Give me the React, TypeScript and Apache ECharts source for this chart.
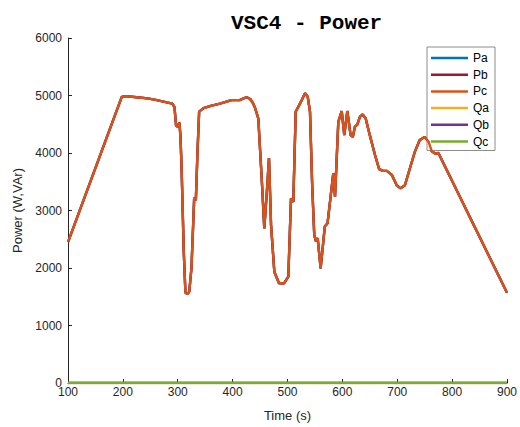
import React, { useEffect, useRef } from "react";
import * as echarts from "echarts";

const seriesNames = ["Pa", "Pb", "Pc", "Qa", "Qb", "Qc"];
const seriesColors = ["#0072BD", "#A2142F", "#D95319", "#EDB120", "#7E2F8E", "#77AC30"];

const pTime = [
  100, 198, 205, 225, 245, 262, 280, 290, 294, 297, 300, 303, 305, 307, 311, 314, 318, 321, 325, 330,
  333, 336, 339, 347, 360, 377, 398, 413, 420, 426, 432, 437, 441, 446.8, 453, 457.7, 462, 466.3, 470, 476,
  484.5, 494, 501.5, 506.4, 510.6, 515, 519.7, 526, 532, 536.8, 541, 545, 548.8, 552, 555, 560.4, 568, 573, 583.5, 586.6,
  592.6, 598.8, 603.5, 609, 615, 619, 623, 627, 632, 637, 642.5, 650, 659.5, 667, 674, 681, 690, 699, 706, 714,
  723, 732, 741, 750, 757, 763, 769, 775, 900,
];
const paValues = [
  2450, 4975, 4990, 4970, 4950, 4920, 4880, 4860, 4800, 4470, 4460, 4530, 4280, 3740, 2280, 1570, 1550, 1590, 2000, 3220,
  3180, 4020, 4720, 4780, 4820, 4860, 4920, 4920, 4950, 4970, 4940, 4870, 4780, 4600, 3560, 2690, 3270, 3910, 2750, 1935,
  1735, 1735, 1850, 3210, 3150, 4720, 4805, 4920, 5040, 4980, 4720, 3440, 2570, 2460, 2520, 1995, 2720, 2780, 3650, 3240,
  4540, 4730, 4310, 4730, 4310, 4280, 4460, 4490, 4630, 4670, 4600, 4310, 3965, 3720, 3690, 3690, 3620, 3440, 3385, 3440,
  3730, 4020, 4225, 4280, 4200, 4030, 3990, 4000, 1570,
];
const pbValues = paValues;
const pcValues = paValues;

const qTime = [100, 900];
const qaValues = [0, 0];
const qbValues = [0, 0];
const qcValues = [0, 0];

const xTicks = [100, 200, 300, 400, 500, 600, 700, 800, 900];
const yTicks = [0, 1000, 2000, 3000, 4000, 5000, 6000];

function zip(t: number[], v: number[]) {
  return t.map((x, i) => [x, v[i]]);
}

export default function App() {
  const ref = useRef<HTMLDivElement>(null);
  useEffect(() => {
    if (!ref.current) return;
    const chart = echarts.init(ref.current, null, { renderer: "svg" });
    const axisColor = "#262626";
    const data = [
      zip(pTime, paValues),
      zip(pTime, pbValues),
      zip(pTime, pcValues),
      zip(qTime, qaValues),
      zip(qTime, qbValues),
      zip(qTime, qcValues),
    ];
    chart.setOption({
      animation: false,
      backgroundColor: "#ffffff",
      title: {
        text: "VSC4 - Power",
        left: 226,
        top: 8,
        textStyle: {
          fontFamily: "Liberation Mono",
          fontWeight: "bold",
          fontSize: 21,
          color: "#000000",
        },
      },
      grid: { left: 68, right: 13, top: 38, bottom: 44, containLabel: false },
      legend: {
        orient: "vertical",
        left: 427,
        top: 47,
        data: seriesNames,
        icon: "rect",
        itemWidth: 37,
        itemHeight: 2.5,
        itemGap: 4.7,
        padding: [5, 6, 3, 4],
        backgroundColor: "#ffffff",
        borderColor: "#8c8c8c",
        borderWidth: 1,
        borderRadius: 0,
        textStyle: { fontFamily: "Liberation Sans", fontSize: 12, color: "#000000", lineHeight: 12 },
      },
      xAxis: {
        type: "value",
        min: xTicks[0],
        max: xTicks[xTicks.length - 1],
        interval: 100,
        name: "Time (s)",
        nameLocation: "middle",
        nameGap: 26,
        nameTextStyle: { fontFamily: "Liberation Sans", fontSize: 13, color: axisColor },
        axisLine: { show: true, lineStyle: { color: axisColor, width: 1 } },
        axisTick: { show: true, inside: true, length: 4, lineStyle: { color: axisColor } },
        axisLabel: { fontFamily: "Liberation Sans", fontSize: 12, color: axisColor, margin: 3 },
        splitLine: { show: false },
      },
      yAxis: {
        type: "value",
        min: yTicks[0],
        max: yTicks[yTicks.length - 1],
        interval: 1000,
        name: "Power (W,VAr)",
        nameLocation: "middle",
        nameGap: 35,
        nameTextStyle: { fontFamily: "Liberation Sans", fontSize: 13, color: axisColor },
        axisLine: { show: true, lineStyle: { color: axisColor, width: 1 } },
        axisTick: { show: true, inside: true, length: 4, lineStyle: { color: axisColor } },
        axisLabel: {
          fontFamily: "Liberation Sans",
          fontSize: 12,
          color: axisColor,
          margin: 6,
          formatter: (v: number) => String(v),
        },
        splitLine: { show: false },
      },
      series: seriesNames.map((name, i) => ({
        name,
        type: "line",
        data: data[i],
        showSymbol: false,
        symbol: "none",
        smooth: false,
        lineStyle: { color: seriesColors[i], width: 2.4 },
        itemStyle: { color: seriesColors[i] },
        z: 2 + i,
      })),
    });
    return () => chart.dispose();
  }, []);
  return <div ref={ref} style={{ position: "absolute", left: 0, top: 0, width: 520, height: 427 }} />;
}
